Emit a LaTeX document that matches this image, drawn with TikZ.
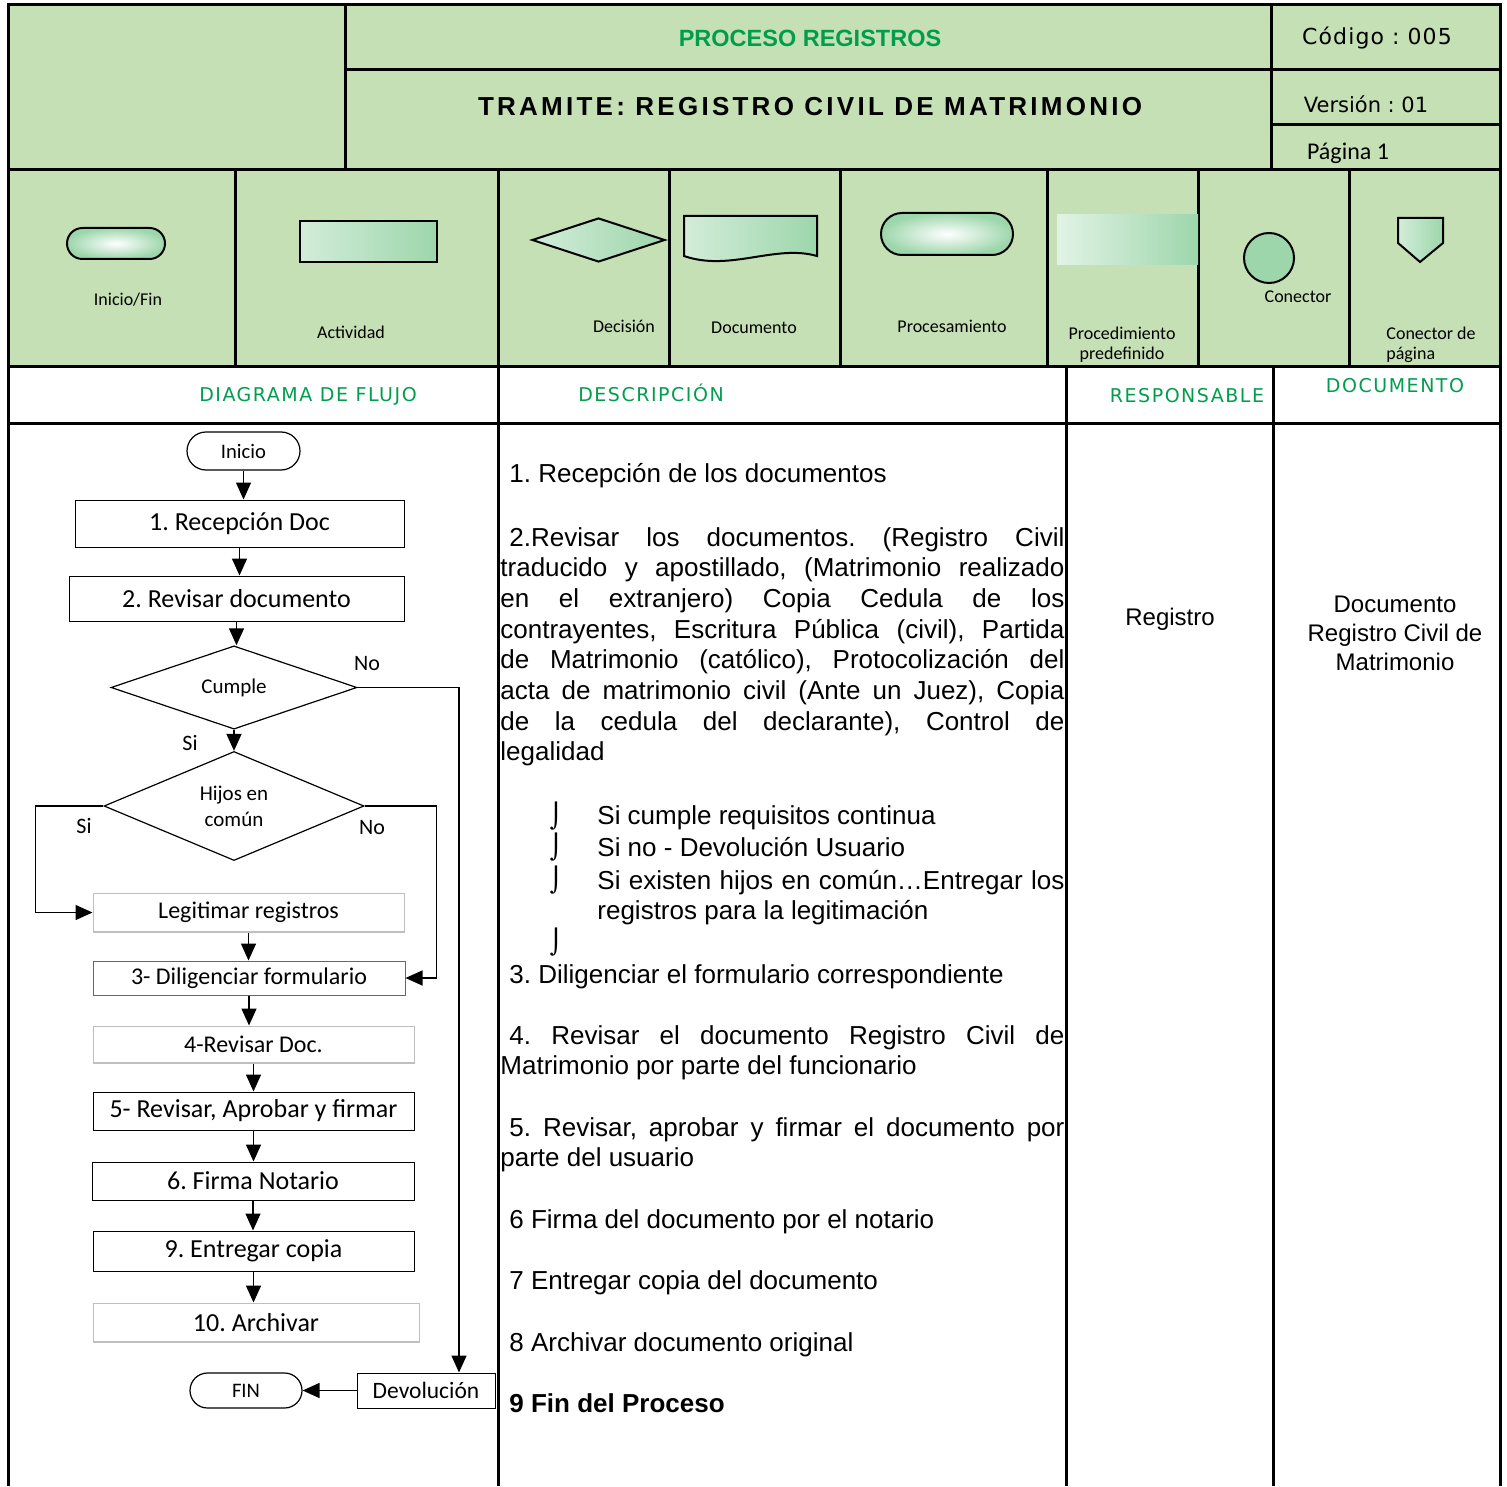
\documentclass[tikz,border=0pt]{standalone}
\usepackage{fontspec}
\setmainfont{Liberation Sans}
\newfontfamily\calibri{Carlito}
\newfontfamily\dejavu{DejaVu Sans}
\usepackage{tikz}
\usetikzlibrary{shapes,shapes.geometric,shapes.misc,calc,positioning}
\usetikzlibrary{arrows.meta}
\frenchspacing

\definecolor{verdecab}{RGB}{197,224,180}
\definecolor{verdeforma}{RGB}{157,214,171}
\definecolor{verdetxt}{RGB}{0,158,76}

\begin{document}
\begin{tikzpicture}[x=0.5pt,y=-0.5pt,>={Triangle[length=8.5pt,width=7.5pt]},line join=miter]
	\tikzstyle{tabla} = [draw,line width=1.5pt]
	\tikzstyle{caja} = [draw,rectangle,line width=0.5pt,inner sep=0pt,font=\calibri\fontsize{13}{15}\selectfont]
	\tikzstyle{cajaab} = [caja,draw=black!25,path picture={\draw[line width=1.2pt] (path picture bounding box.north west) |- (path picture bounding box.south east);}]
	\tikzstyle{term} = [draw,rounded rectangle,line width=0.6pt,inner sep=0pt,font=\calibri\fontsize{10.3}{12}\selectfont]
	\tikzstyle{decision} = [draw,diamond,line width=0.6pt,inner sep=0pt,font=\calibri\fontsize{10.5}{13}\selectfont,align=center]
	\tikzstyle{flecha} = [->,line width=0.75pt]
	\tikzstyle{etiq} = [inner sep=0pt,font=\calibri\fontsize{11}{13}\selectfont]
	\tikzset{
		leyforma/.style={draw,line width=1pt,left color=white!55!verdeforma,right color=verdeforma},
		leypill/.style={draw,rounded rectangle,line width=1pt,inner sep=0pt,inner color=white,outer color=verdeforma},
		leytxt/.style={inner sep=0pt,font=\calibri\fontsize{9}{9.8}\selectfont,align=center},
		coltxt/.style={inner sep=0pt,text=verdetxt,font=\dejavu\addfontfeatures{LetterSpace=8}\fontsize{9.5}{11}\selectfont},
		desc/.style={inner sep=0pt,anchor=base west,font=\fontsize{13}{15.35}\selectfont},
		descpar/.style={desc,text width=282pt,align=justify},
		bala/.style={inner sep=0pt,font=\dejavu\fontsize{12}{14}\selectfont}
	}
	\useasboundingbox (0,0) rectangle (1507,1486);
	
	% encabezado
	\fill[verdecab] (8,5) rectangle (1500,367);
	\draw[tabla] (8,1486) -- (8,5) -- (1500,5) -- (1500,1486);
	\draw[tabla] (8,170) -- (1500,170);
	\draw[tabla] (8,367) -- (1500,367);
	\draw[tabla] (8,423) -- (1500,423);
	\draw[tabla] (345,5) -- (345,170);
	\draw[tabla] (1271,5) -- (1271,170);
	\draw[tabla] (345,70) -- (1500,70);
	\draw[tabla] (1271,125) -- (1500,125);
	\foreach \x in {235,498,669,840,1047,1198,1349}
		\draw[tabla] (\x,170) -- (\x,367);
	\foreach \x in {498,1066,1273}
		\draw[tabla] (\x,367) -- (\x,1486);
	
	\node[inner sep=0pt,text=verdetxt,font=\bfseries\fontsize{11.75}{13}\selectfont] (titulo) at (810,38) {PROCESO REGISTROS};
	\node[inner sep=0pt,font=\bfseries\addfontfeatures{LetterSpace=12.5}\fontsize{13}{15}\selectfont] (tramite) at (810,107) {TRAMITE: REGISTRO CIVIL DE MATRIMONIO};
	\node[inner sep=0pt,font=\dejavu\addfontfeatures{LetterSpace=5}\fontsize{11}{13}\selectfont] (codigo) at (1377,38) {Código : 005};
	\node[inner sep=0pt,font=\dejavu\fontsize{10.5}{12}\selectfont] (version) at (1366,104) {Versión : 01};
	\node[inner sep=0pt,font=\calibri\fontsize{12}{14}\selectfont] (pagina) at (1348,153) {Página 1};
	
	% simbolos
	\node[leypill,minimum width=49pt,minimum height=15.5pt] (s1) at (116,243.5) {};
	\node[leytxt] (t1) at (128,300) {Inicio/Fin};
	\node[leyforma,rectangle,minimum width=68.5pt,minimum height=20.5pt] (s2) at (368.5,241.5) {};
	\node[leytxt] (t2) at (351,332) {Actividad};
	\node[leyforma,diamond,inner sep=0pt,minimum width=66.5pt,minimum height=22pt] (s3) at (598.5,240) {};
	\node[leytxt] (t3) at (624,326) {Decisión};
	\draw[leyforma] (684,216) -- (817,216) -- (817,256) .. controls (775,244) and (730,272) .. (684,256) -- cycle;
	\node[leytxt] (t4) at (754,328) {Documento};
	\node[leypill,minimum width=66pt,minimum height=21pt] (s5) at (947,234) {};
	\node[leytxt] (t5) at (952,326) {Procesamiento};
	\shade[left color=white!70!verdeforma,middle color=verdeforma,right color=verdeforma] (1057,215) rectangle (1198,265);
	\node[leytxt] (t6) at (1122,345) {Procedimiento\\predefinido};
	\node[draw,circle,line width=1pt,fill=verdeforma,inner sep=0pt,minimum size=25pt] (s7) at (1269,258) {};
	\node[leytxt] (t7) at (1298,297) {Conector};
	\draw[leyforma] (1398,218) -- (1443,218) -- (1443,243) -- (1420,262) -- (1398,243) -- cycle;
	\node[leytxt,align=left,anchor=west] (t8) at (1386,345) {Conector de\\página};
	
	% columnas
	\node[coltxt] (c1) at (308,396) {DIAGRAMA DE FLUJO};
	\node[coltxt] (c2) at (651,393) {DESCRIPCIÓN};
	\node[coltxt] (c3) at (1187,396) {RESPONSABLE};
	\node[coltxt] (c4) at (1395,386) {DOCUMENTO};
	
	% diagrama de flujo
	\node[term,minimum width=56.5pt,minimum height=19pt] (ini) at (243.5,451) {Inicio};
	\node[caja,minimum width=164.5pt,minimum height=23.5pt] (rec) at (239.5,523.5) {1. Recepción Doc};
	\node[caja,minimum width=167.5pt,minimum height=22.5pt] (rev) at (236.5,598.5) {2. Revisar documento};
	\node[decision,minimum width=123pt,minimum height=37.5pt] (cumple) at (234,687.5) {Cumple};
	\node[decision,minimum width=130pt,minimum height=53pt] (hijos) at (234,806) {Hijos en\\común};
	\node[cajaab,minimum width=155.5pt,minimum height=19.5pt,font=\calibri\fontsize{12}{14}\selectfont] (legit) at (248.5,912.5) {Legitimar registros};
	\node[caja,draw=black!60,minimum width=156pt,minimum height=17pt,font=\calibri\fontsize{12}{14}\selectfont] (dilig) at (249,978) {3- Diligenciar formulario};
	\node[cajaab,minimum width=160.5pt,minimum height=18.5pt,font=\calibri\fontsize{12}{14}\selectfont] (revdoc) at (253.5,1044.5) {4-Revisar Doc.};
	\node[caja,minimum width=160.5pt,minimum height=19pt] (aprob) at (253.5,1111) {5- Revisar, Aprobar y firmar};
	\node[caja,minimum width=161pt,minimum height=19pt] (firma) at (253,1181) {6. Firma Notario};
	\node[caja,minimum width=160.5pt,minimum height=20pt] (entrega) at (253.5,1251) {9. Entregar copia};
	\node[cajaab,minimum width=163pt,minimum height=19.5pt] (archivo) at (256,1322.5) {10. Archivar};
	\node[term,minimum width=56pt,minimum height=17.5pt] (fin) at (246,1390.5) {FIN};
	\node[caja,minimum width=69pt,minimum height=17.5pt,font=\calibri\fontsize{11.75}{14}\selectfont] (devol) at (426,1390.5) {Devolución};
	
	\node[etiq] (no1) at (367,664) {No};
	\node[etiq] (si1) at (190,743) {Si};
	\node[etiq] (si2) at (84,826) {Si};
	\node[etiq] (no2) at (372,828) {No};
	
	\draw[flecha] (ini.south) -- (ini.south |- rec.north);
	\draw[flecha] (rec.south) -- (rec.south |- rev.north);
	\draw[flecha] (rev.south) -- (rev.south |- cumple.north);
	\draw[flecha] (cumple.south) -- (hijos.north);
	\draw[flecha] (cumple.east) -| ($(devol.north)+(33,0)$);
	\draw[flecha] (hijos.west) -- ++(-68,0) |- (legit.west);
	\draw[flecha] (hijos.east) -- ++(72,0) |- (dilig.east);
	\draw[flecha] (legit.south) -- (legit.south |- dilig.north);
	\draw[flecha] (dilig.south) -- (dilig.south |- revdoc.north);
	\draw[flecha] (revdoc.south) -- (revdoc.south |- aprob.north);
	\draw[flecha] (aprob.south) -- (aprob.south |- firma.north);
	\draw[flecha] (firma.south) -- (firma.south |- entrega.north);
	\draw[flecha] (entrega.south) -- (entrega.south |- archivo.north);
	\draw[flecha] (devol.west) -- (fin.east);
	
	% descripcion
	\node[desc] (d1) at (509,482) {1. Recepción de los documentos};
	\node[descpar] (d2) at (500,546) {\hspace*{4.5pt}2.Revisar los documentos. (Registro Civil\linebreak traducido y apostillado, (Matrimonio realizado\linebreak en el extranjero) Copia Cedula de los\linebreak contrayentes, Escritura Pública (civil), Partida\linebreak de Matrimonio (católico), Protocolización del\linebreak acta de matrimonio civil (Ante un Juez), Copia\linebreak de la cedula del declarante), Control de\linebreak legalidad};
	\node[bala] (b1) at (556,816) {⌡};
	\node[bala] (b2) at (556,847) {⌡};
	\node[bala] (b3) at (556,880) {⌡};
	\node[bala] (b4) at (556,942) {⌡};
	\node[desc] (d3) at (597,824) {Si cumple requisitos continua};
	\node[desc] (d4) at (597,856) {Si no - Devolución Usuario};
	\node[descpar,text width=233.5pt] (d5) at (597,889) {Si existen hijos en común…Entregar los\linebreak registros para la legitimación};
	\node[desc] (d6) at (509,983) {3. Diligenciar el formulario correspondiente};
	\node[descpar] (d7) at (500,1044) {\hspace*{4.5pt}4. Revisar el documento Registro Civil de\linebreak Matrimonio por parte del funcionario};
	\node[descpar] (d8) at (500,1136) {\hspace*{4.5pt}5. Revisar, aprobar y firmar el documento por\linebreak parte del usuario};
	\node[desc] (d9) at (509,1228) {6 Firma del documento por el notario};
	\node[desc] (d10) at (509,1289) {7 Entregar copia del documento};
	\node[desc] (d11) at (509,1351) {8 Archivar documento original};
	\node[desc,font=\bfseries\fontsize{13}{15.35}\selectfont] (d12) at (509,1412) {9 Fin del Proceso};
	
	% responsable y documento
	\node[inner sep=0pt,font=\fontsize{12}{14.5}\selectfont] (resp) at (1170,619) {Registro};
	\node[inner sep=0pt,align=center,font=\fontsize{12}{14.5}\selectfont] (docu) at (1395,633) {Documento\\Registro Civil de\\Matrimonio};
\end{tikzpicture}
\end{document}
